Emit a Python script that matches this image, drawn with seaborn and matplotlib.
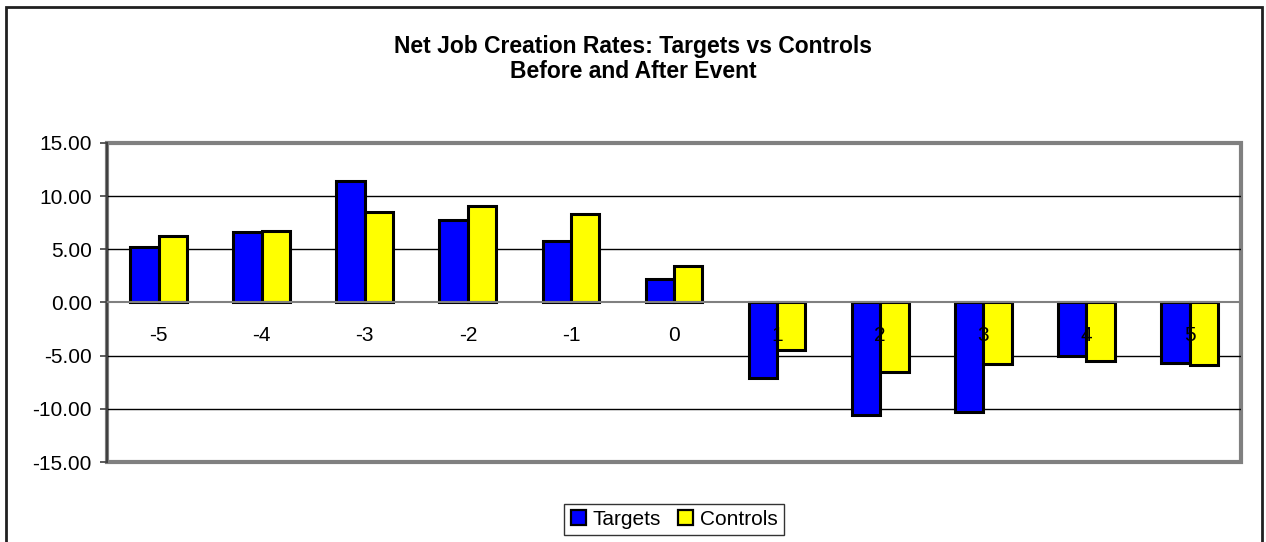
import numpy as np
import pandas as pd
import seaborn as sns
import matplotlib.pyplot as plt
from matplotlib.patches import Rectangle
from matplotlib.ticker import FixedLocator, FormatStrFormatter

# values
event_years = ['-5', '-4', '-3', '-2', '-1', '0', '1', '2', '3', '4', '5']
targets = [5.22, 6.60, 11.40, 7.74, 5.82, 2.17, -7.14, -10.60, -10.28, -5.06, -5.69]
controls = [6.22, 6.70, 8.55, 9.03, 8.30, 3.45, -4.43, -6.54, -5.79, -5.50, -5.85]
series_names = ['Targets', 'Controls']
y_ticks = [-15, -10, -5, 0, 5, 10, 15]
grid_levels = [-10, -5, 5, 10]

df = pd.DataFrame({
    'year': event_years * 2,
    'rate': targets + controls,
    'group': [series_names[0]] * len(targets) + [series_names[1]] * len(controls),
})

sns.set_style('white')
plt.rcParams['font.family'] = ['Liberation Sans', 'DejaVu Sans']
plt.rcParams['text.color'] = 'black'
plt.rcParams['xtick.color'] = 'black'
plt.rcParams['ytick.color'] = 'black'
plt.rcParams['axes.axisbelow'] = False

fig = plt.figure(figsize=(12.66, 5.42), dpi=100)
ax = fig.add_axes([0.0845, 0.1476, 0.8958, 0.5886])

# horizontal gridlines behind the bars
ax.hlines(grid_levels, -0.5, len(event_years) - 0.5, colors='black', linewidth=1.0, zorder=1)

sns.barplot(data=df, x='year', y='rate', hue='group', order=event_years,
            hue_order=series_names, palette=['#0000ff', '#ffff00'],
            width=0.55, edgecolor='black', linewidth=2.2, saturation=1,
            errorbar=None, ax=ax, zorder=2)

ax.set_ylim(-15, 15)
ax.set_xlim(-0.5, len(event_years) - 0.5)
ax.yaxis.set_major_locator(FixedLocator(y_ticks))
ax.yaxis.set_major_formatter(FormatStrFormatter('%.2f'))
ax.grid(False)
ax.set_xlabel('')
ax.set_ylabel('')

# category axis sits on zero, frame drawn by the axes patch
for side in ['top', 'right']:
    ax.spines[side].set_visible(False)
ax.spines['bottom'].set_position(('data', 0))
ax.spines['bottom'].set_color('#808080')
ax.spines['bottom'].set_linewidth(1.5)
ax.spines['left'].set_color('#404040')
ax.spines['left'].set_linewidth(1.5)
ax.patch.set_edgecolor('#808080')
ax.patch.set_linewidth(3)

ax.set_xticks(np.arange(len(event_years) + 1) - 0.5, minor=True)
ax.tick_params(axis='x', which='major', length=0, pad=17, labelsize=15)
ax.tick_params(axis='x', which='minor', length=5, width=1.2, color='#404040', direction='out')
ax.tick_params(axis='y', which='major', length=5, width=1.2, color='#404040',
               direction='out', labelsize=15, left=True, pad=6)

fig.suptitle('Net Job Creation Rates: Targets vs Controls\nBefore and After Event',
             y=0.935, fontsize=16.5, fontweight='bold', linespacing=1.1)

leg = ax.legend(loc='center', bbox_to_anchor=(0.5, -0.18), ncol=2, frameon=True,
                fancybox=False, edgecolor='black', fontsize=15, handlelength=0.75,
                handleheight=0.75, handletextpad=0.3, columnspacing=0.8,
                borderpad=0.3, borderaxespad=0)
leg.get_frame().set_linewidth(1.0)
for patch in leg.get_patches():
    patch.set_linewidth(1.6)

# outer chart border
fig.patches.append(Rectangle((6 / 1266, -0.01), 1256 / 1266, 1 - 7 / 542 + 0.01,
                             transform=fig.transFigure, fill=False,
                             edgecolor='#202020', linewidth=2))

fig.savefig('out.png', dpi=100)
